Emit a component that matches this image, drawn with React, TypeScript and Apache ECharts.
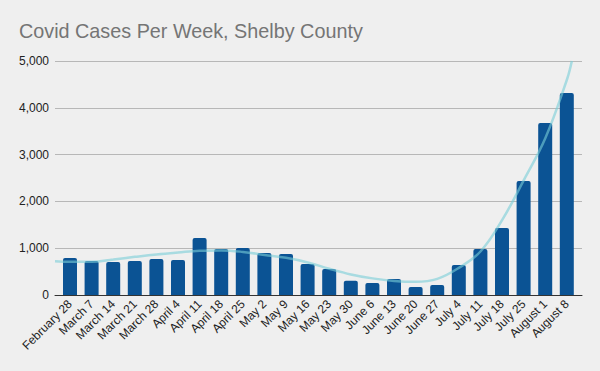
import React, { useEffect, useRef } from "react";
import * as echarts from "echarts";

const weeks = [
  "February 28", "March 7", "March 14", "March 21", "March 28", "April 4",
  "April 11", "April 18", "April 25", "May 2", "May 9", "May 16", "May 23",
  "May 30", "June 6", "June 13", "June 20", "June 27", "July 4", "July 11",
  "July 18", "July 25", "August 1", "August 8",
];

const cases = [
  790, 726, 705, 726, 769, 748, 1220, 983, 1004, 897, 876, 662, 556,
  306, 256, 342, 171, 214, 641, 983, 1432, 2436, 3675, 4316,
];

// trendline: [category position, value]
const trendX = [-0.7, 0, 1, 2, 3, 4, 5, 6, 7, 8, 9, 10, 11, 12, 13, 14, 15, 16, 17, 18, 19, 20, 21, 22, 23, 23.23];
const trendY = [723, 712, 712, 760, 815, 866, 908, 945, 952, 921, 857, 794, 696, 560, 440, 355, 300, 282, 345, 580, 930, 1600, 2450, 3350, 4600, 5000];

const yTicks = [0, 1000, 2000, 3000, 4000, 5000];

export default function App() {
  const ref = useRef<HTMLDivElement>(null);
  useEffect(() => {
    document.body.style.margin = "0";
    if (!ref.current) return;
    const chart = echarts.init(ref.current, null, { renderer: "svg" });
    const yMax = yTicks[yTicks.length - 1];
    const yInt = yTicks[1] - yTicks[0];
    chart.setOption({
      animation: false,
      backgroundColor: "#efefef",
      textStyle: { fontFamily: "Liberation Sans, Arial, sans-serif" },
      title: {
        text: "Covid Cases Per Week, Shelby County",
        left: 14,
        top: 16,
        textStyle: {
          fontSize: 19.8,
          fontWeight: "normal",
          color: "#757575",
          fontFamily: "Liberation Sans, Arial, sans-serif",
        },
      },
      grid: [
        { left: 59.2, right: 22.4, top: 61, bottom: 76 },
        { left: 55, right: 18, top: 61, bottom: 76 },
      ],
      xAxis: [
        {
          type: "category",
          gridIndex: 0,
          data: weeks,
          boundaryGap: true,
          axisLine: { show: false },
          axisTick: { show: false },
          axisLabel: {
            interval: 0,
            rotate: 45,
            fontSize: 12,
            color: "#222",
            margin: 7,
          },
        },
        {
          type: "value",
          gridIndex: 1,
          min: -0.7,
          max: 23.7,
          axisLine: { show: true, onZero: false, lineStyle: { color: "#333", width: 1 } },
          axisTick: { show: false },
          axisLabel: { show: false },
          splitLine: { show: false },
        },
      ],
      yAxis: [
        {
          type: "value",
          gridIndex: 0,
          min: 0,
          max: yMax,
          interval: yInt,
          axisLine: { show: false },
          axisTick: { show: false },
          axisLabel: { show: false },
          splitLine: { show: false },
        },
        {
          type: "value",
          gridIndex: 1,
          min: 0,
          max: yMax,
          interval: yInt,
          axisLine: { show: false },
          axisTick: { show: false },
          axisLabel: {
            fontSize: 12,
            color: "#222",
            margin: 6,
            formatter: (v: number) => v.toLocaleString("en-US"),
          },
          splitLine: { show: true, lineStyle: { color: "#b7b7b7", width: 1 } },
        },
      ],
      series: [
        {
          type: "bar",
          xAxisIndex: 0,
          yAxisIndex: 0,
          data: cases,
          barWidth: 14,
          itemStyle: { color: "#0b5394", borderRadius: [2, 2, 0, 0] },
        },
        {
          type: "line",
          xAxisIndex: 1,
          yAxisIndex: 1,
          data: trendX.map((x, i) => [x, trendY[i]]),
          smooth: 0.4,
          showSymbol: false,
          symbol: "none",
          lineStyle: { color: "rgba(120,205,215,0.6)", width: 2.5 },
        },
      ],
    });
    return () => chart.dispose();
  }, []);
  return <div ref={ref} style={{ width: 600, height: 371 }} />;
}
